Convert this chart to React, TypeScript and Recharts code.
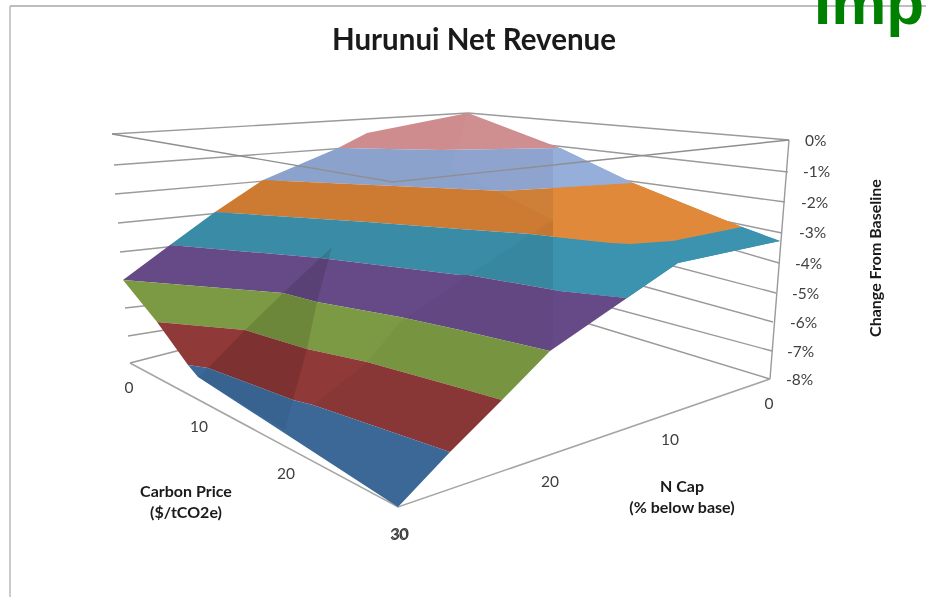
import React from 'react';
import { ScatterChart, Scatter, XAxis, YAxis } from 'recharts';

type P = [number, number];

// Surface bands in projected plot units (x across, y down).
const roseBand: P[] = [[338,148],[367,133],[468,113],[560,148],[500,149],[440,150]];
const skyBand: P[] = [[338,148],[440,150],[500,149],[560,148],[633,183],[553,188],[503,191],[460,189],[263,180]];
const orangeBand: P[] = [[263,180],[460,189],[503,191],[553,188],[633,183],[742,227],[673,241],[630,244],[610,243],[530,234],[460,229],[367,222],[215,212]];
const tealBand: P[] = [[215,212],[367,222],[460,229],[530,234],[610,243],[630,244],[673,241],[742,227],[780,241],[678,263],[627,298],[560,291],[468,275],[460,275],[320,258],[170,245]];
const purpleBand: P[] = [[170,245],[320,258],[460,275],[468,275],[560,291],[627,298],[550,351],[460,330],[400,317],[317,302],[283,293],[123,280]];
const greenBand: P[] = [[123,280],[283,293],[317,302],[400,317],[460,330],[550,351],[502,400],[460,388],[367,362],[307,349],[245,330],[157,322]];
const redBand: P[] = [[157,322],[245,330],[307,349],[367,362],[460,388],[502,400],[450,452],[313,405],[293,400],[208,368],[188,365]];
const blueBand: P[] = [[188,365],[208,368],[293,400],[313,405],[450,452],[398,507],[198,377]];

// Facets of the surface that catch more or less light.
const shadeLeftRidge: P[] = [[332,247],[317,302],[307,349],[293,400],[208,368],[245,330],[283,293]];
const shadeLeftFoot: P[] = [[293,400],[285,430],[198,377],[208,368]];
const shadeCentre: P[] = [[553,220],[468,275],[400,322],[367,362],[313,405],[450,452],[502,400],[550,351],[553,340]];
const skyRight: P[] = [[553,148],[560,148],[633,183],[553,188]];
const orangeRight: P[] = [[553,188],[633,183],[742,227],[673,241],[630,244],[610,243],[553,237]];
const tealRight: P[] = [[553,237],[610,243],[630,244],[673,241],[742,227],[780,241],[678,263],[627,298],[553,290]];
const lightUpper: P[] = [[450,168],[553,220],[553,148],[468,113]];

// Wall and floor rules.
const frameTop: P[] = [[10,6],[926,6]];
const frameLeft: P[] = [[10,6],[10,597]];
const wallLeftRules: P[][] = [
  [[112,134],[468,113]],
  [[114,165],[360,147]],
  [[115,194],[300,178]],
  [[118,223],[260,209]],
  [[120,252],[215,242]],
  [[125,308],[170,303]],
  [[128,336],[190,326]],
  [[130,363],[200,345]],
];
const wallRightRules: P[][] = [
  [[789,140],[468,113]],
  [[788,172],[530,143]],
  [[785,202],[600,177]],
  [[782,233],[700,216]],
  [[779,263],[700,240]],
  [[776,293],[650,260]],
  [[773,322],[610,277]],
  [[772,351],[590,302]],
  [[770,379],[560,315]],
];
const rightEdge: P[] = [[789,140],[770,379]];
const floorEdges: P[] = [[130,363],[398,507],[770,379]];
const frontTop: P[] = [[112,134],[393,182],[789,140]];

// Text.
const chartTitle = 'Hurunui Net Revenue';
const cornerText = 'Imp';
const zTicks = ['0%','-1%','-2%','-3%','-4%','-5%','-6%','-7%','-8%'];
const zTickAt: P[] = [[805,146],[803,177],[801,208],[799,238],[795,269],[792,299],[790,328],[787,357],[786,385]];
const carbonTicks = ['0','10','20','30'];
const carbonTickAt: P[] = [[129,393],[199,432],[286,479],[399,540]];
const nCapTicks = ['0','10','20','30'];
const nCapTickAt: P[] = [[769,409],[670,445],[550,487],[400,539]];
const carbonTitle = ['Carbon Price','($/tCO2e)'];
const carbonTitleAt: P[] = [[186,497],[186,518]];
const nCapTitle = ['N Cap','(% below base)'];
const nCapTitleAt: P[] = [[682,492],[682,513]];
const zTitle = 'Change From Baseline';
const zTitleAt: P = [881,258];
const titleAt: P = [474,50];
const cornerAt: P = [814,24];

const FONT = 'Lato, "Open Sans", sans-serif';
const toPts = (l: P[]) => l.map(([x, y]) => ({ x, y }));

const face = (pts: P[], fill: string, key: string, opacity = 1) => (
  <Scatter
    key={key}
    data={toPts(pts)}
    isAnimationActive={false}
    shape={() => null}
    line={(p: any) => (
      <polygon
        points={p.points.map((q: any) => `${q.x},${q.y}`).join(' ')}
        fill={fill}
        fillOpacity={opacity}
        stroke="none"
      />
    )}
  />
);

const rule = (pts: P[], key: string, stroke = '#9a9a9a', width = 1.4) => (
  <Scatter
    key={key}
    data={toPts(pts)}
    isAnimationActive={false}
    shape={() => null}
    line={{ stroke, strokeWidth: width }}
  />
);

const texts = (labels: string[], at: P[], key: string, style: any) => (
  <Scatter
    key={key}
    data={labels.map((label, i) => ({ x: at[i][0], y: at[i][1], label }))}
    isAnimationActive={false}
    shape={(p: any) => {
      const rot = style.rotate ? `rotate(${style.rotate} ${p.cx} ${p.cy})` : undefined;
      const { rotate, ...rest } = style;
      return (
        <text x={p.cx} y={p.cy} transform={rot} {...rest}>
          {p.payload?.label ?? p.label}
        </text>
      );
    }}
  />
);

const tick = { fontFamily: FONT, fontSize: 15.5, fill: '#404040' };
const axisTitle = { fontFamily: FONT, fontSize: 16, fontWeight: 700, fill: '#1a1a1a', textAnchor: 'middle' };

export default function App() {
  return (
    <div style={{ position: 'absolute', left: 0, top: 0, width: 926, height: 597, filter: 'blur(0.45px)', background: '#fff' }}>
      <ScatterChart width={926} height={597} margin={{ top: 0, right: 0, bottom: 0, left: 0 }}>
        <XAxis type="number" dataKey="x" domain={[0, 926]} hide allowDataOverflow />
        <YAxis type="number" dataKey="y" domain={[0, 597]} reversed hide allowDataOverflow />

        {rule(frameTop, 'ft', '#a8a8a8', 1.5)}
        {rule(frameLeft, 'fl', '#a8a8a8', 1.2)}
        {wallLeftRules.map((r, i) => rule(r, `wl${i}`))}
        {wallRightRules.map((r, i) => rule(r, `wr${i}`))}
        {rule(rightEdge, 're')}
        {rule(floorEdges, 'fe', '#a6a6a6', 1.6)}

        {face(roseBand, '#ce8c8e', 'b1')}
        {face(skyBand, '#8ba2cd', 'b2')}
        {face(orangeBand, '#cd7b32', 'b3')}
        {face(tealBand, '#3a8ca6', 'b4')}
        {face(purpleBand, '#664a87', 'b5')}
        {face(greenBand, '#7c9a43', 'b6')}
        {face(redBand, '#8f3a38', 'b7')}
        {face(blueBand, '#3b6897', 'b8')}

        {face(shadeLeftRidge, '#000000', 's1', 0.12)}
        {face(shadeLeftFoot, '#000000', 's1b', 0.05)}
        {face(shadeCentre, '#000000', 's2', 0.035)}
        {face(skyRight, '#96aeda', 's3')}
        {face(orangeRight, '#e0893b', 's3b')}
        {face(tealRight, '#3c93b0', 's3c')}
        {face(lightUpper, '#ffffff', 's4', 0.03)}

        {rule(frontTop, 'ftp', '#8f8f8f', 1.4)}

        {texts([cornerText], [cornerAt], 'corner', { fontFamily: '"Liberation Sans", sans-serif', fontSize: 62, fontWeight: 700, fill: '#008000' })}
        {texts([chartTitle], [titleAt], 'title', { fontFamily: FONT, fontSize: 29.5, fontWeight: 700, fill: '#1a1a1a', textAnchor: 'middle' })}
        {texts(zTicks, zTickAt, 'zt', tick)}
        {texts(carbonTicks, carbonTickAt, 'ct', { ...tick, textAnchor: 'middle' })}
        {texts(nCapTicks, nCapTickAt, 'nt', { ...tick, textAnchor: 'middle' })}
        {texts(carbonTitle, carbonTitleAt, 'cti', axisTitle)}
        {texts(nCapTitle, nCapTitleAt, 'nti', axisTitle)}
        {texts([zTitle], [zTitleAt], 'zti', { ...axisTitle, rotate: -90 })}
      </ScatterChart>
    </div>
  );
}
